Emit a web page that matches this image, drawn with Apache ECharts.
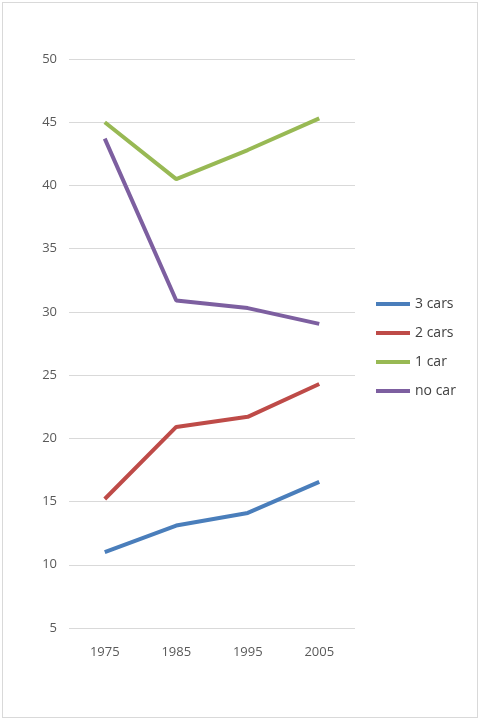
<!DOCTYPE html>
<html>
<head>
<meta charset="utf-8">
<script src="https://cdn.jsdelivr.net/npm/echarts@6/dist/echarts.min.js"></script>
<style>
  html, body { margin: 0; padding: 0; background: #fff; }
  #frame { position: absolute; left: 2px; top: 2px; width: 474px; height: 714px; border: 1px solid #d9d9d9; }
  #chart { width: 480px; height: 720px; }
</style>
</head>
<body>
<div id="frame"></div>
<div id="chart"></div>
<script>
var years = ['1975', '1985', '1995', '2005'];
var threeCars = [11.0, 13.1, 14.1, 16.55];
var twoCars = [15.2, 20.9, 21.7, 24.3];
var oneCar = [45.0, 40.5, 42.8, 45.3];
var noCar = [43.7, 30.9, 30.3, 29.05];

var chart = echarts.init(document.getElementById('chart'));

function line(name, data, color) {
  return {
    name: name, type: 'line', data: data, symbol: 'none',
    lineStyle: { width: 4, color: color }, itemStyle: { color: color }
  };
}

chart.setOption({
  animation: false,
  grid: { left: 69, right: 125, top: 59, bottom: 92 },
  legend: {
    orient: 'vertical', left: 371, top: 292, itemGap: 15,
    itemWidth: 34, itemHeight: 4, icon: 'rect',
    textStyle: { color: '#404040', fontSize: 14, fontFamily: 'Open Sans' },
    data: ['3 cars', '2 cars', '1 car', 'no car']
  },
  xAxis: {
    type: 'category', data: years, boundaryGap: true,
    axisLine: { show: false }, axisTick: { show: false },
    axisLabel: { color: '#595959', fontSize: 13, margin: 18, fontFamily: 'Open Sans' }
  },
  yAxis: {
    type: 'value', min: 5, max: 50, interval: 5,
    axisLine: { show: false }, axisTick: { show: false },
    axisLabel: { color: '#595959', fontSize: 13, margin: 12, fontFamily: 'Open Sans' },
    splitLine: { lineStyle: { color: '#d9d9d9' } }
  },
  series: [
    line('3 cars', threeCars, '#4a7ebb'),
    line('2 cars', twoCars, '#be4b48'),
    line('1 car', oneCar, '#98b954'),
    line('no car', noCar, '#7d5fa0')
  ]
});
</script>
</body>
</html>
